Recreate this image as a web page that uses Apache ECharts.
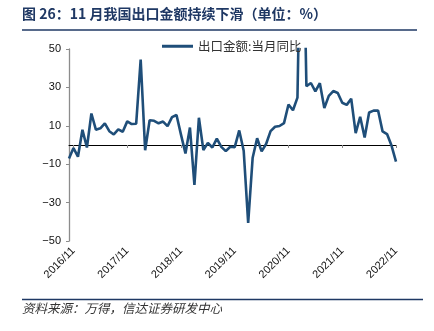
<!DOCTYPE html>
<html><head><meta charset="utf-8">
<script src="https://cdn.jsdelivr.net/npm/echarts@6/dist/echarts.min.js"></script>
<style>html,body{margin:0;padding:0;background:#fff}#c{width:434px;height:331px}</style>
</head><body><div id="c"></div>
<script>
// Categories: monthly, 2016/10 .. 2022/11
const startYear = 2016, startMonth = 10, monthCount = 74;
const categories = [];
for (let i = 0; i < monthCount; i++) {
  const m = startMonth - 1 + i;
  categories.push((startYear + Math.floor(m / 12)) + '/' + ((m % 12) + 1));
}
// 出口金额:当月同比 (%)
const values2016 = [-7.0, -1.6, -6.1];
const values2017 = [7.9, -1.3, 16.4, 8.0, 8.7, 11.3, 7.2, 5.5, 8.1, 6.9, 12.3, 10.9];
const values2018 = [11.1, 44.5, -2.7, 12.9, 12.6, 11.3, 12.2, 9.8, 14.5, 15.6, 5.4, -4.4];
const values2019 = [9.1, -20.8, 14.2, -2.7, 1.1, -1.3, 3.3, -1.0, -3.2, -0.9, -1.1, 7.6];
const values2020 = [-3.0, -40.6, -6.6, 3.5, -3.3, 0.5, 7.2, 9.5, 9.9, 11.4, 21.1, 18.1];
const values2021 = [24.7, 154.9, 30.6, 32.3, 27.9, 32.2, 19.3, 25.6, 28.1, 27.1, 22.0, 20.9];
const values2022 = [24.1, 6.2, 14.7, 3.9, 16.9, 17.9, 18.0, 7.1, 5.7, -0.3, -8.7];
const exportYoY = [].concat(values2016, values2017, values2018, values2019, values2020, values2021, values2022);
const yTicks = [-50, -30, -10, 10, 30, 50];
const seriesName = '出口金额:当月同比';
const titleText = '图 26：11 月我国出口金额持续下滑（单位：%）';
const sourceText = '资料来源：万得，信达证券研发中心';

const isNov = (idx) => idx % 12 === 1;
const novIndices = categories.map((c, i) => i).filter(isNov);
const chart = echarts.init(document.getElementById('c'), null, {renderer: 'canvas'});
chart.setOption({
  animation: false,
  backgroundColor: '#fff',
  textStyle: {fontFamily: 'Liberation Sans, Arial, sans-serif'},
  grid: {left: 69, right: 38, top: 49, bottom: 90, containLabel: false},
  legend: {
    left: 162, top: 40, padding: 0,
    itemWidth: 31, itemHeight: 3, icon: 'rect',
    textStyle: {fontFamily: 'Noto Sans CJK SC', fontSize: 12.5, color: '#333'},
    data: [seriesName]
  },
  xAxis: [{
    type: 'category', data: categories, boundaryGap: false, position: 'bottom',
    axisLine: {show: true, onZero: true, lineStyle: {color: '#000', width: 1}},
    axisTick: {show: true, interval: (i) => isNov(i), length: 3, lineStyle: {color: '#888'}},
    axisLabel: {show: false}, splitLine: {show: false}
  }, {
    type: 'value', min: 0, max: monthCount - 1, position: 'bottom',
    axisLine: {show: false, onZero: false}, axisTick: {show: false},
    axisLabel: {customValues: novIndices, rotate: 45, margin: 8, fontSize: 11, color: '#111',
      hideOverlap: false, formatter: (v) => categories[Math.round(v)],
      fontFamily: 'Liberation Sans, Arial, sans-serif'},
    splitLine: {show: false}
  }],
  yAxis: {
    type: 'value', min: -50, max: 50,
    axisLine: {show: true, onZero: false, lineStyle: {color: '#8c8c8c', width: 1.3}},
    axisTick: {show: true, length: 3, customValues: yTicks, lineStyle: {color: '#8c8c8c'}},
    axisLabel: {customValues: yTicks, margin: 8, fontSize: 11, color: '#111',
      fontFamily: 'Liberation Sans, Arial, sans-serif',
      formatter: (v) => v < 0 ? '\u2212' + (-v) : String(v)},
    splitLine: {show: false}
  },
  series: [{
    name: seriesName, type: 'line', data: exportYoY, xAxisIndex: 0,
    showSymbol: false, symbol: 'none', clip: true,
    lineStyle: {color: '#1f4e79', width: 2.6}, itemStyle: {color: '#1f4e79'}
  }],
  graphic: [
    {type: 'text', left: 22, top: 7, style: {text: titleText, fill: '#1f3864',
      font: 'bold 14px "Noto Sans CJK SC"'}},
    {type: 'line', shape: {x1: 22, y1: 30, x2: 417, y2: 30}, style: {stroke: '#1f3864', lineWidth: 1.5}},
    {type: 'line', shape: {x1: 22, y1: 299.5, x2: 423, y2: 299.5}, style: {stroke: '#1f3864', lineWidth: 1.5}},
    {type: 'text', left: 22, top: 302, style: {text: sourceText, fill: '#333',
      font: 'italic 12.5px "Noto Sans CJK SC"'}}
  ]
});
</script></body></html>
